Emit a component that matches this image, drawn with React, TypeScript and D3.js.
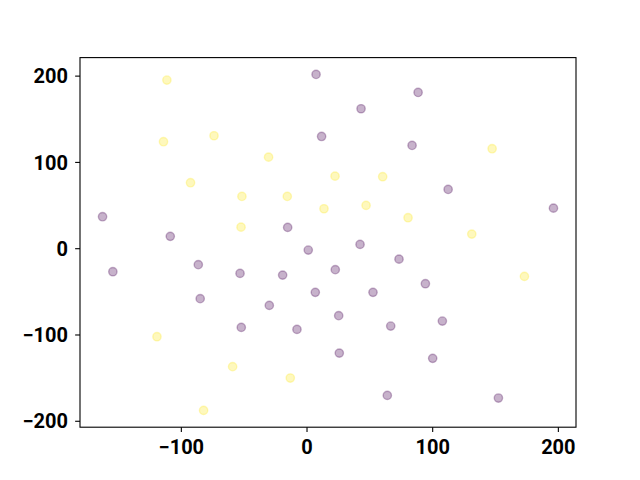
import React from "react";
import * as d3 from "d3";

const purpleX = [7.2, 11.6, -162.7, -108.8, -15.4, 88.4, 43.0, 83.6, 112.3, 196.1, 42.2, 1.0, -154.5, -86.5, -53.3, -19.4, 6.6, -85.0, -30.0, -52.3, -8.0, 73.2, 22.5, 94.2, 52.5, 25.2, 66.6, 107.7, 25.7, 100.0, 63.9, 152.3];
const purpleY = [202.0, 130.1, 37.1, 14.3, 24.7, 181.1, 162.2, 119.7, 68.7, 47.0, 5.0, -1.6, -26.7, -18.5, -28.6, -30.6, -50.6, -57.9, -65.7, -91.2, -93.5, -12.1, -24.3, -40.6, -50.6, -77.6, -89.7, -83.9, -121.0, -127.1, -170.0, -173.1];
const yellowX = [-111.5, -114.2, -74.0, -30.6, -92.7, -51.8, -15.7, 13.5, -52.5, 147.3, 22.3, 60.2, 47.0, 80.4, 131.1, -119.4, -59.2, -13.3, -82.3, 173.0];
const yellowY = [195.4, 124.0, 130.9, 106.1, 76.5, 60.6, 60.6, 46.3, 25.0, 115.9, 84.1, 83.4, 50.2, 35.9, 16.9, -102.0, -136.7, -149.9, -187.4, -32.1];
const xTicks = [-100, 0, 100, 200];
const yTicks = [-200, -100, 0, 100, 200];

const PURPLE = "#440154";
const YELLOW = "#fde725";

export default function App() {
  const W = 640, H = 480;
  const left = 80, right = 576, top = 57.6, bottom = 427.2;
  const allX = [...purpleX, ...yellowX];
  const allY = [...purpleY, ...yellowY];
  const [x0, x1] = d3.extent(allX) as [number, number];
  const [y0, y1] = d3.extent(allY) as [number, number];
  const mx = (x1 - x0) * 0.05, my = (y1 - y0) * 0.05;
  const xs = d3.scaleLinear().domain([x0 - mx, x1 + mx]).range([left, right]);
  const ys = d3.scaleLinear().domain([y0 - my, y1 + my]).range([bottom, top]);

  const pts: { x: number; y: number; c: string }[] = [];
  purpleX.forEach((v, i) => pts.push({ x: v, y: purpleY[i], c: PURPLE }));
  yellowX.forEach((v, i) => pts.push({ x: v, y: yellowY[i], c: YELLOW }));

  const font = "Roboto, 'DejaVu Sans', sans-serif";
  const fmt = (t: number) => (t < 0 ? "\u2212" + Math.abs(t) : String(t));

  return (
    <svg width={W} height={H} style={{ position: "absolute", left: 0, top: 0, background: "#fff" }}>
      <rect x={0} y={0} width={W} height={H} fill="#fff" />
      {pts.map((p, i) => (
        <circle key={i} cx={xs(p.x)} cy={ys(p.y)} r={4.17} fill={p.c} fillOpacity={0.3} stroke={p.c} strokeOpacity={0.3} strokeWidth={1.39} />
      ))}
      <rect x={left} y={top} width={right - left} height={bottom - top} fill="none" stroke="#000" strokeWidth={1.1} />
      {xTicks.map((t) => (
        <g key={"x" + t} transform={`translate(${xs(t)},0)`}>
          <line y1={bottom} y2={bottom + 4.86} stroke="#000" strokeWidth={1.1} />
          <text y={bottom + 27} textAnchor="middle" fontFamily={font} fontWeight="bold" fontSize={20} fill="#000">{fmt(t)}</text>
        </g>
      ))}
      {yTicks.map((t) => (
        <g key={"y" + t} transform={`translate(0,${ys(t)})`}>
          <line x1={left} x2={left - 4.86} stroke="#000" strokeWidth={1.1} />
          <text x={left - 12} dy="0.36em" textAnchor="end" fontFamily={font} fontWeight="bold" fontSize={20} fill="#000">{fmt(t)}</text>
        </g>
      ))}
    </svg>
  );
}
